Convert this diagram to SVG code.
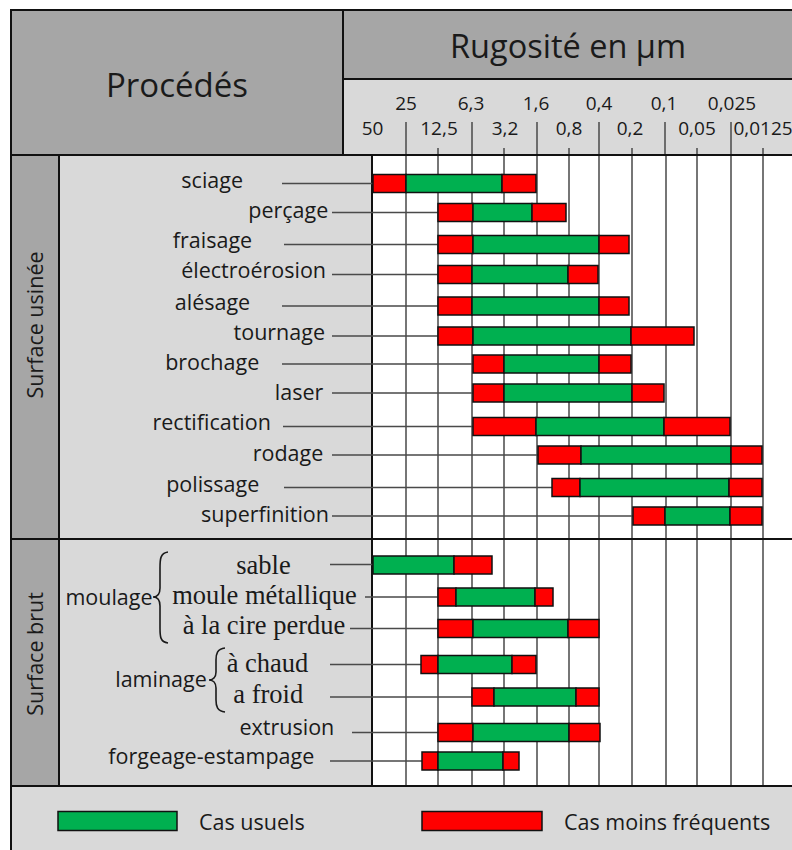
<svg xmlns="http://www.w3.org/2000/svg" width="792" height="850" viewBox="0 0 792 850">
<style>
.sans{font-family:"Open Sans","Liberation Sans",sans-serif;fill:#1a1a1a}
.serif{font-family:"Liberation Serif","DejaVu Serif",serif;fill:#1a1a1a;font-size:26.5px}
.lbl{font-size:21.5px}
.num{font-size:19px;text-anchor:middle}
.r{fill:#ff0000;stroke:#111;stroke-width:1.5}
.g{fill:#00b050;stroke:#111;stroke-width:1.5}
.grid{stroke:#4a4a4a;stroke-width:1.5}
.lead{stroke:#4a4a4a;stroke-width:1.3;fill:none}
.bd{stroke:#111;stroke-width:2;fill:none}
</style>
<rect x="0" y="0" width="792" height="850" fill="#fff"/>
<g id="table">
<rect x="11" y="10" width="332" height="145" fill="#a6a6a6"/>
<rect x="343" y="10" width="449" height="69" fill="#a6a6a6"/>
<rect x="343" y="79" width="449" height="76" fill="#d9d9d9"/>
<rect x="11" y="155" width="48" height="631" fill="#a6a6a6"/>
<rect x="59" y="155" width="313" height="631" fill="#d9d9d9"/>
<rect x="372" y="155" width="420" height="631" fill="#fff"/>
<rect x="11" y="786" width="781" height="64" fill="#d9d9d9"/>
</g>
<g id="grid">
<path class="grid" d="M406,155V786M438,155V786M472,155V786M504,155V786M537,155V786M569,155V786M599,155V786M632,155V786M666,155V786M697,155V786M731,155V786M763,155V786"/>
<path class="grid" d="M406,122V155M472,122V155M537,122V155M599,122V155M665,122V155M731,122V155M438,148V155M504,148V155M569,148V155M632,148V155M697,148V155M763,148V155"/>
</g>
<g id="borders">
<path class="bd" d="M792,10H11V850"/>
<path class="bd" d="M343,10V155M343,79H792M11,155H792M59,155V786M372,155V786M11,539H792M11,786H792"/>
</g>
<g id="header">
<text class="sans" x="177" y="97" font-size="33" text-anchor="middle">Procédés</text>
<text class="sans" x="568" y="58" font-size="32.5" text-anchor="middle">Rugosité en µm</text>
</g>
<g id="scale">
<text class="sans num" x="406" y="110">25</text>
<text class="sans num" x="471" y="110">6,3</text>
<text class="sans num" x="536" y="110">1,6</text>
<text class="sans num" x="599" y="110">0,4</text>
<text class="sans num" x="664" y="110">0,1</text>
<text class="sans num" x="732" y="110">0,025</text>
<text class="sans num" x="372.5" y="135">50</text>
<text class="sans num" x="439" y="135">12,5</text>
<text class="sans num" x="505" y="135">3,2</text>
<text class="sans num" x="569" y="135">0,8</text>
<text class="sans num" x="630" y="135">0,2</text>
<text class="sans num" x="697" y="135">0,05</text>
<text class="sans num" x="763" y="135">0,0125</text>
</g>
<g id="section-usinee">
<text class="sans" font-size="21.5" text-anchor="middle" transform="translate(43,325) rotate(-90)">Surface usinée</text>
</g>
<g id="section-brut">
<text class="sans" font-size="21.5" text-anchor="middle" transform="translate(43,654) rotate(-90)">Surface brut</text>
</g>
<g id="connectors">
<path class="lead" d="M282,183.5H373M332,212.5H438M284,244.5H438M332,274.5H438M282,306H438M332,336H438M282,364H473M332,393H473M283,426.5H473M332,455H538M284,487.5H552M332,516H633"/>
<path class="lead" d="M330,564.5H373M365,597H438M350,628.5H438M330,664.5H421M330,697H472M352,732.5H438M330,761H422"/>
</g>
<g id="sciage">
<text class="sans lbl" x="212.2" y="188.3" text-anchor="middle">sciage</text>
<rect class="r" x="373" y="174.5" width="33" height="18"/><rect class="g" x="406" y="174.5" width="96" height="18"/><rect class="r" x="502" y="174.5" width="34" height="18"/>
</g>
<g id="percage">
<text class="sans lbl" x="328.3" y="218.3" text-anchor="end">perçage</text>
<rect class="r" x="438" y="203.5" width="35" height="18"/><rect class="g" x="473" y="203.5" width="59" height="18"/><rect class="r" x="532" y="203.5" width="34" height="18"/>
</g>
<g id="fraisage">
<text class="sans lbl" x="212.5" y="248" text-anchor="middle">fraisage</text>
<rect class="r" x="438" y="235.5" width="35" height="18"/><rect class="g" x="473" y="235.5" width="126" height="18"/><rect class="r" x="599" y="235.5" width="30" height="18"/>
</g>
<g id="electroerosion">
<text class="sans lbl" x="326" y="278.3" text-anchor="end">électroérosion</text>
<rect class="r" x="438" y="265.5" width="34" height="18"/><rect class="g" x="472" y="265.5" width="96" height="18"/><rect class="r" x="568" y="265.5" width="30" height="18"/>
</g>
<g id="alesage">
<text class="sans lbl" x="212.5" y="309.5" text-anchor="middle">alésage</text>
<rect class="r" x="438" y="297" width="34" height="18"/><rect class="g" x="472" y="297" width="127" height="18"/><rect class="r" x="599" y="297" width="30" height="18"/>
</g>
<g id="tournage">
<text class="sans lbl" x="325" y="340" text-anchor="end">tournage</text>
<rect class="r" x="438" y="327" width="35" height="18"/><rect class="g" x="473" y="327" width="158" height="18"/><rect class="r" x="631" y="327" width="63" height="18"/>
</g>
<g id="brochage">
<text class="sans lbl" x="212.2" y="370" text-anchor="middle">brochage</text>
<rect class="r" x="473" y="355" width="31" height="18"/><rect class="g" x="504" y="355" width="95" height="18"/><rect class="r" x="599" y="355" width="32" height="18"/>
</g>
<g id="laser">
<text class="sans lbl" x="323.3" y="400" text-anchor="end">laser</text>
<rect class="r" x="473" y="384" width="31" height="18"/><rect class="g" x="504" y="384" width="128" height="18"/><rect class="r" x="632" y="384" width="32" height="18"/>
</g>
<g id="rectification">
<text class="sans lbl" x="211.7" y="430" text-anchor="middle">rectification</text>
<rect class="r" x="473" y="417.5" width="63" height="18"/><rect class="g" x="536" y="417.5" width="128" height="18"/><rect class="r" x="664" y="417.5" width="66" height="18"/>
</g>
<g id="rodage">
<text class="sans lbl" x="323.3" y="461" text-anchor="end">rodage</text>
<rect class="r" x="538" y="446" width="43" height="18"/><rect class="g" x="581" y="446" width="150" height="18"/><rect class="r" x="731" y="446" width="31" height="18"/>
</g>
<g id="polissage">
<text class="sans lbl" x="212.7" y="491.7" text-anchor="middle">polissage</text>
<rect class="r" x="552" y="478.5" width="28" height="18"/><rect class="g" x="580" y="478.5" width="149" height="18"/><rect class="r" x="729" y="478.5" width="33" height="18"/>
</g>
<g id="superfinition">
<text class="sans lbl" x="329" y="521.7" text-anchor="end">superfinition</text>
<rect class="r" x="633" y="507" width="32" height="18"/><rect class="g" x="665" y="507" width="65" height="18"/><rect class="r" x="730" y="507" width="32" height="18"/>
</g>
<g id="moulage">
<text class="sans lbl" x="109" y="605" text-anchor="middle">moulage</text>
<path d="M168,552C160,553 160,560 160,568L160,588C160,594 157,597 153,597C157,597 160,600 160,606L160,628C160,636 160,642 168,643" fill="none" stroke="#1a1a1a" stroke-width="1.6"/>
</g>
<g id="sable">
<text class="serif" x="263.5" y="574.3" text-anchor="middle">sable</text>
<rect class="g" x="373" y="556" width="81" height="18"/><rect class="r" x="454" y="556" width="38" height="18"/>
</g>
<g id="moule-metallique">
<text class="serif" x="264.5" y="603.5" text-anchor="middle">moule métallique</text>
<rect class="r" x="438" y="588" width="18" height="18"/><rect class="g" x="456" y="588" width="79" height="18"/><rect class="r" x="535" y="588" width="18" height="18"/>
</g>
<g id="cire-perdue">
<text class="serif" x="264" y="633.5" text-anchor="middle">à la cire perdue</text>
<rect class="r" x="438" y="619.5" width="35" height="18"/><rect class="g" x="473" y="619.5" width="95" height="18"/><rect class="r" x="568" y="619.5" width="31" height="18"/>
</g>
<g id="laminage">
<text class="sans lbl" x="161" y="687" text-anchor="middle">laminage</text>
<path d="M225,648C217,649 216,654 216,660L216,672C216,677 213,680 209,680C213,680 216,683 216,688L216,700C216,706 217,711 225,712" fill="none" stroke="#1a1a1a" stroke-width="1.6"/>
</g>
<g id="a-chaud">
<text class="serif" x="226.7" y="672" text-anchor="start">à chaud</text>
<rect class="r" x="421" y="655.5" width="17" height="18"/><rect class="g" x="438" y="655.5" width="74" height="18"/><rect class="r" x="512" y="655.5" width="24" height="18"/>
</g>
<g id="a-froid">
<text class="serif" x="233.3" y="703" text-anchor="start">a froid</text>
<rect class="r" x="472" y="688" width="22" height="18"/><rect class="g" x="494" y="688" width="82" height="18"/><rect class="r" x="576" y="688" width="23" height="18"/>
</g>
<g id="extrusion">
<text class="sans lbl" x="334.3" y="735" text-anchor="end">extrusion</text>
<rect class="r" x="438" y="723.5" width="35" height="18"/><rect class="g" x="473" y="723.5" width="96" height="18"/><rect class="r" x="569" y="723.5" width="31" height="18"/>
</g>
<g id="forgeage-estampage">
<text class="sans lbl" x="211.3" y="763.5" text-anchor="middle">forgeage-estampage</text>
<rect class="r" x="422" y="752" width="16" height="18"/><rect class="g" x="438" y="752" width="65" height="18"/><rect class="r" x="503" y="752" width="16" height="18"/>
</g>
<g id="legend">
<rect class="g" x="58" y="811.5" width="119" height="19"/>
<text class="sans lbl" x="199" y="830">Cas usuels</text>
<rect class="r" x="422" y="811.5" width="120" height="19"/>
<text class="sans lbl" x="564" y="830">Cas moins fréquents</text>
</g>
</svg>
